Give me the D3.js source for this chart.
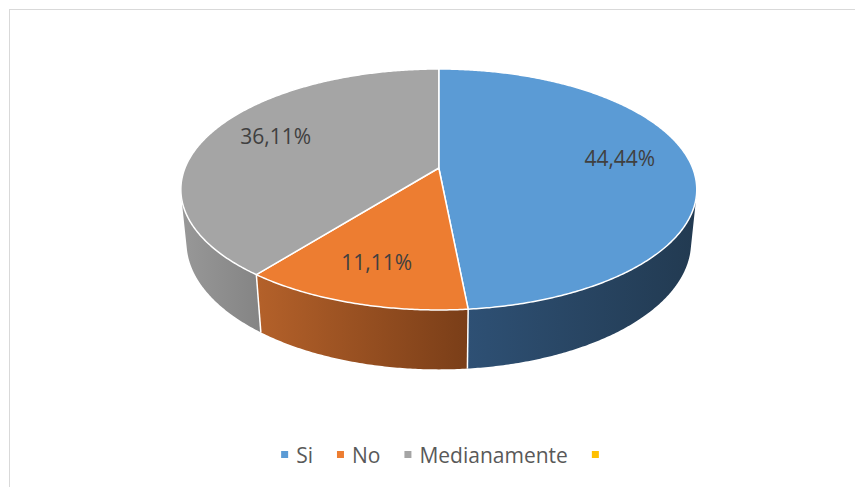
<!DOCTYPE html>
<html>
  <head>
    <title>Pie 3D</title>
    <script src="https://d3js.org/d3.v7.min.js"></script>
    <style>
      body { margin: 0; background: #fff; }
      text { font-family: "Open Sans", "Liberation Sans", sans-serif; }
    </style>
  </head>
  <body>
    <svg width="855" height="487"></svg>
    <script>
      // data
      const categories = ["Si", "No", "Medianamente", ""];
      const values = [44.44, 11.11, 36.11, 0];
      const valueLabels = ["44,44%", "11,11%", "36,11%", ""];

      // colours
      const topColors = ["#5b9bd5", "#ed7d31", "#a5a5a5", "#ffc000"];
      const sideLight = ["#2e5074", "#b4612a", "#989898", "#bf9000"];
      const sideDark = ["#223a51", "#7a3e18", "#848484", "#7f6000"];

      const svg = d3.select("svg");
      const width = +svg.attr("width");
      const height = +svg.attr("height");

      // chart frame
      svg.append("rect")
        .attr("x", 9.5).attr("y", 9.5)
        .attr("width", width + 20).attr("height", height + 20)
        .attr("fill", "#fff")
        .attr("stroke", "#d9d9d9");

      // simple perspective camera for the tilted disc
      const cam = {cx: 438.8, cy: 168, k: 1264, dist: 4.98, tilt: 27.36 * Math.PI / 180, thick: 0.236};
      const sinT = Math.sin(cam.tilt), cosT = Math.cos(cam.tilt);

      function project(theta, r, y) {
        const X = r * Math.sin(theta), Z = r * Math.cos(theta);
        const depth = cam.dist + Z * cosT - y * sinT;
        return [cam.cx + X * cam.k / depth, cam.cy - (Z * sinT + y * cosT) * cam.k / depth];
      }

      function rim(a0, a1, y) {
        const n = Math.max(2, Math.ceil((a1 - a0) / (Math.PI / 360)));
        return d3.range(n + 1).map(i => project(a0 + (a1 - a0) * i / n, 1, y));
      }

      const pie = d3.pie().sort(null).value(d => d.value);
      const arcs = pie(categories.map((c, i) => ({cat: c, value: values[i], i: i})));

      // front-facing part of the cylinder wall
      const visMin = Math.acos(-1 / (cam.dist * cosT));
      const visMax = 2 * Math.PI - visMin;

      const line = d3.line();
      const defs = svg.append("defs");
      const gSide = svg.append("g");
      const gTop = svg.append("g");
      const gLab = svg.append("g");

      arcs.forEach(a => {
        const lo = Math.max(a.startAngle, visMin);
        const hi = Math.min(a.endAngle, visMax);
        if (hi <= lo) return;
        const top = rim(lo, hi, 0);
        const bottom = rim(lo, hi, -cam.thick).reverse();
        const pts = top.concat(bottom);
        const xs = d3.extent(pts, p => p[0]);
        const grad = defs.append("linearGradient")
          .attr("id", "side" + a.index)
          .attr("gradientUnits", "userSpaceOnUse")
          .attr("x1", xs[0]).attr("x2", xs[1]).attr("y1", 0).attr("y2", 0);
        grad.append("stop").attr("offset", 0).attr("stop-color", sideLight[a.index]);
        grad.append("stop").attr("offset", 1).attr("stop-color", sideDark[a.index]);
        gSide.append("path")
          .attr("d", line(pts) + "Z")
          .attr("fill", `url(#side${a.index})`);
      });

      // white seams between wall pieces
      arcs.forEach(a => {
        const t = a.startAngle;
        if (a.value > 0 && t > visMin && t < visMax) {
          gSide.append("path")
            .attr("d", line([project(t, 1, 0), project(t, 1, -cam.thick)]))
            .attr("stroke", "#fff").attr("stroke-width", 1.5).attr("fill", "none");
        }
      });

      // top faces
      const apex = project(0, 0, 0);
      arcs.filter(a => a.value > 0).forEach(a => {
        const pts = [apex].concat(rim(a.startAngle, a.endAngle, 0));
        gTop.append("path")
          .attr("d", line(pts) + "Z")
          .attr("fill", topColors[a.index])
          .attr("stroke", "#fff")
          .attr("stroke-width", 1.5)
          .attr("stroke-linejoin", "round");
      });

      // data labels
      arcs.filter(a => a.value > 0).forEach(a => {
        const mid = (a.startAngle + a.endAngle) / 2;
        const edge = project(mid, 1, 0);
        const x = apex[0] + (edge[0] - apex[0]) * 0.72;
        const y = apex[1] + (edge[1] - apex[1]) * 0.74 - 5;
        gLab.append("text")
          .attr("x", x).attr("y", y)
          .attr("dy", "0.36em")
          .attr("text-anchor", "middle")
          .attr("font-size", 21)
          .attr("fill", "#404040")
          .text(valueLabels[a.index]);
      });

      // legend
      const legend = svg.append("g");
      let lx = 0;
      categories.forEach((c, i) => {
        const item = legend.append("g").attr("transform", `translate(${lx},0)`);
        item.append("rect")
          .attr("x", 0).attr("y", 451)
          .attr("width", 7).attr("height", 7)
          .attr("fill", topColors[i]);
        const t = item.append("text")
          .attr("x", 15).attr("y", 463)
          .attr("font-size", 21)
          .attr("fill", "#595959")
          .text(c);
        const w = c ? 15 + t.node().getComputedTextLength() : 7;
        lx += w + 24;
      });
      const total = lx - 24;
      legend.attr("transform", `translate(${440 - total / 2},0)`);
    </script>
  </body>
</html>
